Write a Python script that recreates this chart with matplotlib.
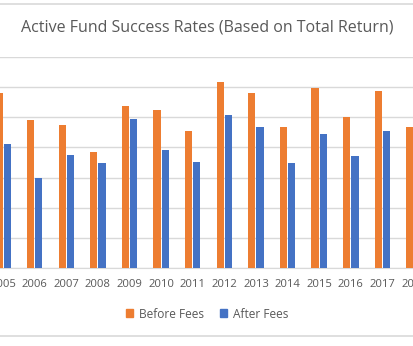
import matplotlib.pyplot as plt
import numpy as np
from matplotlib.lines import Line2D
from matplotlib.patches import Patch

plt.rcParams['font.family'] = ['Open Sans', 'DejaVu Sans']

# success rates (%) per year
years = [2005, 2006, 2007, 2008, 2009, 2010, 2011, 2012, 2013, 2014, 2015, 2016, 2017, 2018]
before_fees = [58.2, 49.0, 47.4, 38.6, 53.6, 52.4, 45.4, 61.8, 58.2, 46.7, 59.8, 50.0, 58.7, 46.7]
after_fees = [41.0, 29.9, 37.6, 34.8, 49.3, 39.3, 35.1, 50.9, 46.8, 34.7, 44.3, 37.0, 45.4, 35.0]

orange = "#ED7D31"
blue = "#4472C4"
grey_text = "#595959"
grid = "#D9D9D9"

fig = plt.figure(figsize=(4.14, 3.46), dpi=100)
ax = fig.add_axes([0, 1 - 268/346, 1, (268 - 57)/346])

x = np.array(years, dtype=float)
w = 0.23
ax.bar(x - 0.13, before_fees, w, color=orange, zorder=3)
ax.bar(x + 0.13, after_fees, w, color=blue, zorder=3)

ax.set_ylim(0, 70)
ax.set_yticks(np.arange(0, 71, 10))
ax.set_yticklabels([])
ax.tick_params(axis='y', length=0)
ax.grid(axis='y', color=grid, linewidth=1, zorder=0)
ax.set_xlim(2004.903, 2017.88)
ax.set_xticks(years)
ax.set_xticklabels([str(y) for y in years], fontsize=8.1, color=grey_text)
ax.tick_params(axis='x', length=0, pad=8)
for s in ['top', 'left', 'right']:
    ax.spines[s].set_visible(False)
ax.spines['bottom'].set_color(grid)

fig.text(0.5, 1 - 28/346, "Active Fund Success Rates (Based on Total Return)",
         ha='center', va='center', fontsize=11.5, color=grey_text)

handles = [Patch(color=orange, label="Before Fees"), Patch(color=blue, label="After Fees")]
fig.legend(handles=handles, loc='center', bbox_to_anchor=(0.5, 1 - 314/346), ncol=2,
           frameon=False, fontsize=8.6, labelcolor=grey_text, handlelength=0.6,
           handleheight=0.6, handletextpad=0.5, columnspacing=1.3)

# chart border, top and bottom
fig.add_artist(Line2D([0, 1], [1 - 4/346, 1 - 4/346], color=grid, linewidth=1.2))
fig.add_artist(Line2D([0, 1], [1 - 336/346, 1 - 336/346], color=grid, linewidth=1.2))

fig.savefig("out.png", dpi=100, facecolor="white")
